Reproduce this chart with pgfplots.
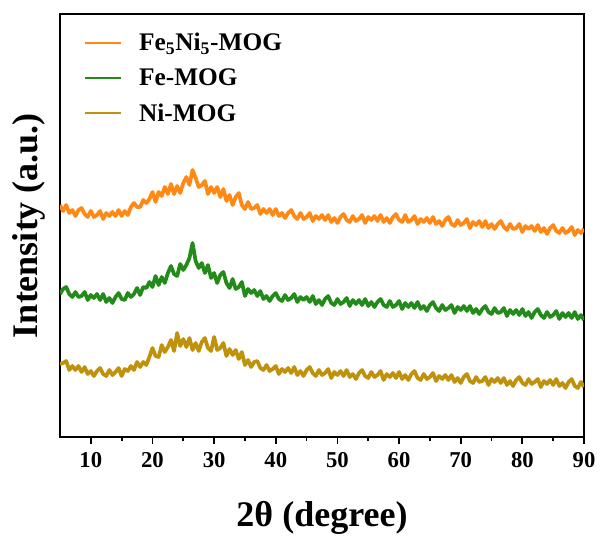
\documentclass[border=0pt]{standalone}
\usepackage{fontspec}
\setmainfont{Liberation Serif}
\usepackage{pgfplots}
\usepackage{pgfplotstable}
\pgfplotsset{compat=1.18}
\definecolor{cfn}{RGB}{255,137,20}
\definecolor{cfe}{RGB}{35,139,25}
\definecolor{cni}{RGB}{192,145,10}
\pgfplotstableread{
x fn fe ni
5.0 232 143 73
5.5 226 148 74
6.0 232 150 76
6.5 224 143 67
7.0 227 140 71
7.5 221 145 67
8.0 227 140 71
8.5 229 141 65
9.0 223 145 70
9.5 220 137 63
10.0 226 142 66
10.5 220 139 61
11.0 222 143 66
11.5 226 137 69
12.0 218 143 63
12.5 224 135 61
13.0 221 139 67
13.5 225 134 62
14.0 221 140 65
14.5 227 144 69
15.0 221 138 61
15.5 226 137 68
16.0 222 144 66
16.5 230 140 71
17.0 234 143 67
17.5 230 149 75
18.0 230 142 70
18.5 237 150 75
19.0 234 149 72
19.5 238 155 80
20.0 245 150 89
20.5 235 161 81
21.0 245 152 80
21.5 241 160 92
22.0 250 154 85
22.5 243 164 90
23.0 253 171 97
23.5 243 163 86
24.0 251 161 104
24.5 244 173 91
25.0 254 167 98
25.5 260 172 90
26.0 252 179 99
26.5 267 194 87
27.0 259 176 94
27.5 250 169 86
28.0 252 174 95
28.5 256 164 99
29.0 243 172 89
29.5 250 159 86
30.0 244 164 100
30.5 250 154 87
31.0 240 162 89
31.5 248 165 94
32.0 236 154 81
32.5 242 149 88
33.0 232 158 82
33.5 240 148 87
34.0 244 150 78
34.5 232 155 85
35.0 228 141 72
35.5 235 148 77
36.0 228 144 70
36.5 229 147 75
37.0 232 141 76
37.5 223 146 69
38.0 228 138 67
38.5 224 141 72
39.0 228 136 66
39.5 222 141 68
40.0 228 144 71
40.5 221 138 63
41.0 224 136 68
41.5 219 142 65
42.0 224 137 69
42.5 227 139 64
43.0 221 143 70
43.5 218 135 62
44.0 224 140 66
44.5 218 137 61
45.0 220 140 67
45.5 224 135 70
46.0 216 141 64
46.5 221 133 61
47.0 218 137 67
47.5 222 132 62
48.0 217 138 64
48.5 222 141 68
49.0 215 134 59
49.5 219 132 65
50.0 214 138 62
50.5 220 133 66
51.0 223 135 61
51.5 217 139 67
52.0 215 131 60
52.5 221 137 63
53.0 216 133 58
53.5 218 137 64
54.0 222 132 67
54.5 214 138 61
55.0 220 131 59
55.5 217 135 65
56.0 221 130 60
56.5 216 135 62
57.0 222 138 66
57.5 215 132 57
58.0 219 130 63
58.5 214 136 60
59.0 220 130 64
59.5 223 132 59
60.0 217 136 65
60.5 215 128 58
61.0 222 134 62
61.5 215 130 57
62.0 217 134 63
62.5 221 129 66
63.0 213 135 59
63.5 218 128 57
64.0 215 131 63
64.5 219 126 58
65.0 214 132 60
65.5 220 135 64
66.0 213 129 56
66.5 216 126 61
67.0 211 132 58
67.5 217 127 62
68.0 220 129 57
68.5 213 132 62
69.0 211 124 55
69.5 217 130 59
70.0 212 127 54
70.5 214 131 60
71.0 218 126 63
71.5 209 131 56
72.0 215 124 54
72.5 212 128 60
73.0 216 123 55
73.5 210 128 56
74.0 216 131 60
74.5 209 125 52
75.0 213 123 58
75.5 208 129 55
76.0 213 124 59
76.5 216 125 54
77.0 210 129 59
77.5 207 121 52
78.0 213 127 56
78.5 208 123 51
79.0 209 127 57
79.5 213 122 60
80.0 205 128 54
80.5 211 121 52
81.0 208 125 58
81.5 211 119 53
82.0 206 125 55
82.5 212 128 58
83.0 205 122 50
83.5 209 119 56
84.0 203 125 53
84.5 209 120 57
85.0 212 122 52
85.5 206 126 58
86.0 204 118 51
86.5 209 124 54
87.0 204 120 49
87.5 206 124 55
88.0 210 119 58
88.5 202 125 51
89.0 207 118 49
89.5 204 122 55
90.0 208 117 50
}\datatable
\begin{document}
\begin{tikzpicture}
\begin{axis}[
  scale only axis,
  width=393pt, height=317.25pt,
  xmin=5, xmax=90, ymin=0, ymax=423,
  axis line style={line width=1.5pt},
  xtick={10,20,...,90},
  minor x tick num=1,
  xtick pos=left,
  tick align=outside,
  major tick length=5pt,
  minor tick length=3pt,
  every tick/.style={line width=1.3pt, black},
  ytick=\empty,
  /pgf/number format/assume math mode=true,
  ticklabel style={font=\fontsize{17}{20}\selectfont\bfseries},
  xticklabel shift=3pt,
  label style={font=\fontsize{27}{32}\selectfont\bfseries},
  xlabel={2θ (degree)},
  ylabel={Intensity (a.u.)},
  xlabel style={at={(axis description cs:0.5,-0.19)}, anchor=center},
  ylabel style={at={(axis description cs:-0.059,0.5)}, anchor=center},
  legend style={draw=none, fill=none, at={(0.038,0.968)}, anchor=north west,
    font=\fontsize{19}{22}\selectfont\bfseries, row sep=8pt},
  legend cell align=left,
  legend image code/.code={\draw[line width=1.6pt,#1] (0pt,0pt) -- (27pt,0pt); \path (37pt,0pt);},
]
\addplot[cfn, line width=2.8pt, line join=round] table[x=x, y=fn] {\datatable};
\addlegendentry{Fe\textsubscript{5}Ni\textsubscript{5}-MOG}
\addplot[cfe, line width=2.8pt, line join=round] table[x=x, y=fe] {\datatable};
\addlegendentry{Fe-MOG}
\addplot[cni, line width=2.8pt, line join=round] table[x=x, y=ni] {\datatable};
\addlegendentry{Ni-MOG}
\coordinate (sw) at (rel axis cs:0,0);
\coordinate (ne) at (rel axis cs:1,1);
\end{axis}
\pgfresetboundingbox
\path ([xshift=-45pt,yshift=-74.25pt]sw) rectangle ([xshift=13.5pt,yshift=10.5pt]ne);
\end{tikzpicture}
\end{document}
